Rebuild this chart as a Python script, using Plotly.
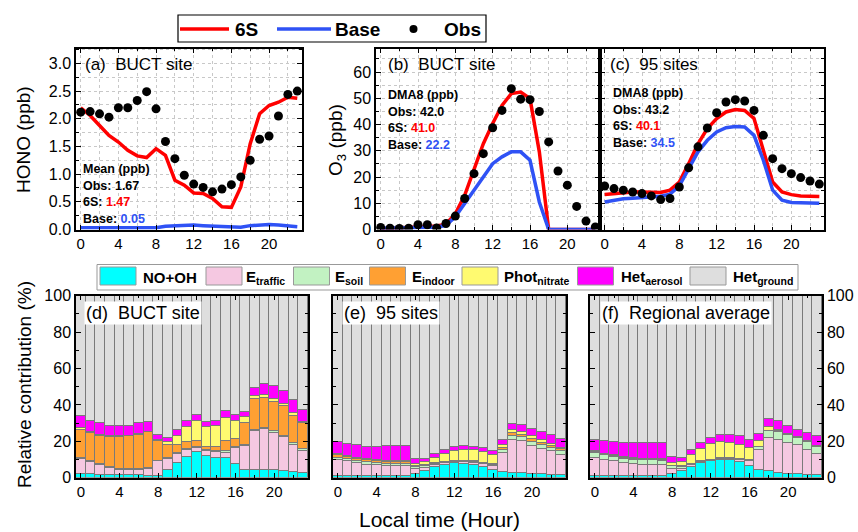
import plotly.graph_objects as go

W, H = 858, 532
def fx(x): return x / W
def fy(y): return 1 - y / H

hours = list(range(24))
xtick_vals = [0, 4, 8, 12, 16, 20]

# ---- (a) HONO at BUCT ----
hono_obs = [2.12, 2.13, 2.09, 2.03, 2.20, 2.20, 2.33, 2.49, 2.18, 1.59, 1.28, 0.98,
            0.82, 0.76, 0.68, 0.73, 0.81, 0.95, 1.25, 1.63, 1.69, 2.05, 2.44, 2.50]
hono_6s = [2.20, 2.06, 1.88, 1.70, 1.58, 1.43, 1.33, 1.30, 1.46, 1.34, 0.89, 0.80,
           0.66, 0.65, 0.56, 0.41, 0.40, 0.77, 1.55, 2.09, 2.24, 2.30, 2.39, 2.37]
hono_base = [0.03, 0.03, 0.03, 0.03, 0.03, 0.03, 0.03, 0.03, 0.03, 0.06, 0.07, 0.08,
             0.08, 0.07, 0.06, 0.05, 0.04, 0.04, 0.07, 0.08, 0.09, 0.08, 0.07, 0.05]

# ---- (b) O3 at BUCT ----
o3b_obs = [0.8, 0.5, 0.4, 0.5, 1.8, 1.8, 0.6, 2.3, 5.1, 11.8, 21.3, 28.9,
           38.8, 45.4, 53.7, 49.7, 49.5, 45.0, 33.4, 22.3, 16.9, 8.8, 3.2, 1.0]
o3b_6s = [0.3, 0.5, 0.6, 0.7, 1.2, 1.3, 1.3, 2.0, 6.0, 13.0, 22.6, 32.7,
          40.4, 47.3, 51.8, 52.4, 49.9, 29.6, 0.0, 0.0, 0.0, 0.0, 0.0, 0.0]
o3b_base = [0.5, 0.5, 0.6, 0.6, 0.8, 0.9, 0.9, 1.6, 4.8, 9.9, 15.0, 20.0,
            25.1, 27.7, 29.6, 29.6, 26.4, 10.5, 0.0, 0.0, 0.0, 0.0, 0.0, 0.0]

# ---- (c) O3 at 95 sites ----
o3c_obs = [16.6, 15.6, 15.0, 14.3, 13.7, 12.8, 11.4, 11.8, 16.2, 23.5, 31.5, 38.7,
           44.5, 48.6, 49.5, 49.0, 45.4, 35.9, 27.0, 23.2, 21.3, 19.8, 18.5, 17.3]
o3c_6s = [13.3, 13.7, 14.1, 14.3, 14.3, 14.3, 14.1, 15.0, 18.1, 25.1, 32.7, 38.5,
          42.3, 44.8, 45.7, 45.4, 42.3, 30.2, 18.1, 14.3, 13.3, 12.8, 12.7, 12.6]
o3c_base = [10.5, 11.2, 11.7, 11.9, 12.2, 12.4, 12.7, 13.5, 16.6, 23.2, 29.6, 34.0,
            37.2, 38.8, 39.3, 39.1, 35.9, 26.4, 15.0, 11.2, 10.3, 10.2, 10.0, 10.0]

# ---- (d) BUCT site contributions (%) ----
d_nooh = [2.4, 2.0, 1.8, 1.6, 1.5, 1.5, 1.5, 1.3, 1.3, 4.5, 8.2, 11.8,
          14.4, 12.2, 11.1, 11.1, 7.8, 4.2, 4.2, 4.5, 4.2, 3.8, 3.1, 2.7]
d_traffic = [8.1, 6.7, 5.3, 3.9, 3.0, 2.7, 2.7, 3.6, 7.8, 5.9, 5.1, 3.5,
             2.1, 2.8, 3.3, 2.9, 8.7, 13.2, 21.4, 22.2, 20.7, 18.7, 15.3, 12.4]
d_soil = [0.6, 0.9, 0.7, 0.5, 0.6, 0.5, 0.5, 0.7, 0.5, 0.7, 0.6, 0.7,
          0.5, 0.5, 0.5, 0.6, 0.6, 0.5, 0.8, 0.8, 0.7, 0.8, 0.7, 0.9]
d_indoor = [15.4, 14.9, 15.5, 16.4, 17.3, 18.2, 18.9, 19.5, 10.6, 7.3, 4.5, 4.0,
            3.5, 1.8, 2.0, 5.6, 4.4, 12.1, 16.9, 16.7, 16.2, 16.0, 15.1, 14.0]
d_phot = [1.0, 1.0, 0.5, 0.5, 0.5, 0.4, 0.6, 0.4, 0.7, 1.2, 4.9, 7.8,
          11.0, 10.5, 11.5, 12.7, 10.0, 3.3, 1.8, 1.4, 1.5, 1.2, 1.3, 0.5]
d_aerosol = [6.3, 6.0, 6.2, 5.5, 5.5, 5.4, 5.8, 5.0, 2.7, 2.4, 3.1, 3.3,
             3.0, 2.7, 2.7, 4.0, 3.2, 3.1, 4.2, 5.9, 7.2, 7.3, 7.2, 6.8]
d_ground = [66.2, 68.5, 70.0, 71.6, 71.6, 71.3, 70.0, 69.5, 76.4, 78.0, 73.6, 68.9,
            65.5, 69.5, 68.9, 63.1, 65.3, 63.6, 50.7, 48.5, 49.5, 52.2, 57.3, 62.7]

# ---- (e) 95 sites contributions (%) ----
e_nooh = [1.3, 1.1, 0.9, 0.9, 0.9, 0.9, 0.9, 0.9, 2.0, 3.7, 6.0, 7.3,
          8.2, 7.9, 7.0, 6.0, 4.2, 3.3, 2.9, 2.6, 2.4, 2.0, 1.8, 1.6]
e_traffic = [8.8, 8.1, 7.3, 6.4, 6.1, 5.7, 5.7, 5.7, 3.1, 2.0, 1.0, 0.9,
             0.6, 0.9, 1.4, 1.5, 2.6, 10.4, 18.2, 17.7, 15.2, 14.1, 12.9, 11.2]
e_soil = [1.1, 1.1, 1.1, 1.3, 1.3, 1.3, 1.3, 1.3, 0.9, 0.7, 0.5, 0.4,
          0.4, 0.4, 0.4, 0.5, 0.5, 1.5, 2.2, 2.1, 2.2, 2.1, 1.9, 1.8]
e_indoor = [1.4, 1.2, 1.2, 1.1, 1.0, 1.1, 1.1, 1.1, 0.6, 0.6, 0.5, 0.4,
            0.4, 0.4, 0.4, 0.4, 0.5, 1.1, 1.3, 1.4, 1.5, 1.3, 1.2, 1.1]
e_phot = [0.8, 0.8, 0.7, 0.7, 0.6, 0.5, 0.5, 0.5, 1.3, 1.6, 3.2, 4.4,
          5.2, 6.0, 6.0, 5.9, 4.7, 2.0, 1.6, 1.5, 1.6, 1.2, 1.1, 1.0]
e_aerosol = [6.4, 6.4, 6.9, 6.8, 7.3, 8.1, 8.1, 8.1, 2.7, 1.7, 2.0, 2.0,
             2.0, 2.0, 2.0, 2.2, 2.5, 2.8, 3.7, 4.0, 4.2, 4.6, 4.5, 4.9]
e_ground = [80.2, 81.3, 81.9, 82.8, 82.8, 82.4, 82.4, 82.4, 89.4, 89.7, 86.8, 84.6,
            83.2, 82.4, 82.8, 83.5, 85.0, 78.9, 70.1, 70.7, 72.9, 74.7, 76.6, 78.4]

# ---- (f) Regional average contributions (%) ----
f_nooh = [1.0, 1.0, 0.9, 0.9, 0.9, 0.9, 0.9, 0.9, 2.0, 3.8, 6.0, 8.2,
          9.2, 10.1, 10.1, 8.6, 6.4, 4.6, 3.7, 2.9, 2.4, 2.0, 1.8, 1.6]
f_traffic = [10.2, 9.1, 8.3, 7.3, 6.8, 6.4, 6.4, 6.4, 2.9, 1.3, 1.0, 0.4,
             0.5, 0.5, 0.5, 1.1, 3.1, 10.6, 18.5, 18.2, 16.8, 15.9, 13.8, 11.8]
f_soil = [2.8, 2.7, 2.4, 2.4, 2.4, 2.4, 2.4, 2.3, 1.5, 0.9, 0.5, 0.4,
          0.3, 0.2, 0.2, 0.3, 0.4, 1.8, 3.6, 4.2, 4.2, 4.3, 4.2, 3.6]
f_indoor = [0.5, 0.4, 0.5, 0.5, 0.5, 0.6, 0.5, 0.5, 0.4, 0.6, 0.4, 0.2,
            0.1, 0.1, 0.1, 0.2, 0.2, 0.2, 0.3, 0.3, 0.5, 0.2, 0.3, 0.2]
f_phot = [0.3, 0.2, 0.4, 0.4, 0.4, 0.4, 0.3, 0.3, 1.4, 2.0, 4.6, 6.6,
          8.8, 8.9, 8.5, 8.1, 6.4, 2.9, 1.9, 1.0, 0.5, 0.1, 0.2, 0.2]
f_aerosol = [6.3, 6.9, 7.1, 7.7, 8.2, 8.5, 8.7, 8.8, 3.3, 2.6, 3.1, 3.4,
             3.1, 4.0, 4.4, 4.8, 4.2, 4.1, 4.6, 4.5, 4.2, 4.1, 4.4, 5.7]
f_ground = [78.9, 79.7, 80.4, 80.8, 80.8, 80.8, 80.8, 80.8, 88.5, 88.8, 84.4, 80.8,
            78.0, 76.2, 76.2, 76.9, 79.3, 75.6, 67.4, 68.9, 71.4, 73.4, 75.3, 76.9]

comp_names = ["NO+OH", "E<sub>traffic</sub>", "E<sub>soil</sub>", "E<sub>indoor</sub>",
              "Phot<sub>nitrate</sub>", "Het<sub>aerosol</sub>", "Het<sub>ground</sub>"]
comp_colors = ["#00FFFF", "#F5C8E1", "#C2F2C2", "#FFA033", "#FFFA70", "#FF00FF", "#DEDEDE"]
panel_d = [d_nooh, d_traffic, d_soil, d_indoor, d_phot, d_aerosol, d_ground]
panel_e = [e_nooh, e_traffic, e_soil, e_indoor, e_phot, e_aerosol, e_ground]
panel_f = [f_nooh, f_traffic, f_soil, f_indoor, f_phot, f_aerosol, f_ground]

RED = "#FF0000"
BLUE = "#2F52F5"
FONT = "Liberation Sans, Arial, sans-serif"

fig = go.Figure()

def add_lines(xa, ya, s6, base, obs):
    fig.add_trace(go.Scatter(x=hours, y=s6, mode="lines", line=dict(color=RED, width=3.5),
                             xaxis=xa, yaxis=ya, showlegend=False))
    fig.add_trace(go.Scatter(x=hours, y=base, mode="lines", line=dict(color=BLUE, width=3.5),
                             xaxis=xa, yaxis=ya, showlegend=False))
    fig.add_trace(go.Scatter(x=hours, y=obs, mode="markers",
                             marker=dict(color="black", size=9),
                             xaxis=xa, yaxis=ya, showlegend=False))

add_lines("x", "y", hono_6s, hono_base, hono_obs)
add_lines("x2", "y2", o3b_6s, o3b_base, o3b_obs)
add_lines("x3", "y3", o3c_6s, o3c_base, o3c_obs)

for xa, ya, panel in [("x4", "y4", panel_d), ("x5", "y5", panel_e), ("x6", "y6", panel_f)]:
    for name, col, vals in zip(comp_names, comp_colors, panel):
        fig.add_trace(go.Bar(x=hours, y=vals, name=name, width=1,
                             marker=dict(color=col, line=dict(color="#7a7a7a", width=1)),
                             xaxis=xa, yaxis=ya, showlegend=False))

def xax(x0, x1, anchor, labels=True, grid=False):
    return dict(domain=[fx(x0), fx(x1)], anchor=anchor, range=[-0.5, 23.5],
                tickvals=xtick_vals, showticklabels=labels,
                ticks="inside", ticklen=5, tickwidth=1.2, tickcolor="black",
                minor=dict(dtick=2, tick0=0, ticks="inside", ticklen=3, tickcolor="black",
                           showgrid=grid, gridcolor="#c8c8c8", griddash="dot"),
                showgrid=grid, gridcolor="#c8c8c8", griddash="dot", gridwidth=1,
                showline=True, linecolor="black", linewidth=1.5, mirror="ticks",
                zeroline=False, tickfont=dict(family=FONT, size=15, color="black"))

def yax(y0, y1, anchor, rng, dtick, mdtick, labels=True, side="left", grid=False, fmt=None):
    d = dict(domain=[fy(y1), fy(y0)], anchor=anchor, range=rng, dtick=dtick, tick0=0,
             showticklabels=labels, side=side,
             ticks="inside", ticklen=5, tickwidth=1.2, tickcolor="black",
             minor=dict(dtick=mdtick, tick0=0, ticks="inside", ticklen=3, tickcolor="black",
                        showgrid=grid, gridcolor="#c8c8c8", griddash="dot"),
             showgrid=grid, gridcolor="#c8c8c8", griddash="dot", gridwidth=1,
             showline=True, linecolor="black", linewidth=1.5, mirror="ticks",
             zeroline=False, tickfont=dict(family=FONT, size=16, color="black"))
    if fmt:
        d["tickformat"] = fmt
    return d

TOP0, TOP1 = 48.5, 229.5
BOT0, BOT1 = 295.7, 477.7

fig.update_layout(
    xaxis=xax(76, 302, "y", grid=True),
    yaxis=yax(TOP0, TOP1, "x", [0, 3.27], 0.5, 0.25, grid=True, fmt=".1f"),
    xaxis2=xax(376, 600, "y2", grid=True),
    yaxis2=yax(TOP0, TOP1, "x2", [0, 69], 10, 5, grid=True),
    xaxis3=xax(600, 824, "y3", grid=True),
    yaxis3=yax(TOP0, TOP1, "x3", [0, 69], 10, 5, labels=False, grid=True),
    xaxis4=xax(76, 308, "y4"),
    yaxis4=yax(BOT0, BOT1, "x4", [0, 100], 20, 10),
    xaxis5=xax(333, 566, "y5"),
    yaxis5=yax(BOT0, BOT1, "x5", [0, 100], 20, 10, labels=False),
    xaxis6=xax(590, 822, "y6"),
    yaxis6=yax(BOT0, BOT1, "x6", [0, 100], 20, 10, side="right"),
)

shapes = []
annots = []

def text(x, y, s, size=16, bold=False, xanchor="left", color="black", angle=0, bg=None):
    a = dict(x=fx(x), y=fy(y), xref="paper", yref="paper", text=("<b>%s</b>" % s) if bold else s,
             showarrow=False, xanchor=xanchor, yanchor="middle", textangle=angle,
             font=dict(family=FONT, size=size, color=color))
    if bg:
        a["bgcolor"] = bg
        a["borderpad"] = 1
    annots.append(a)

# axis titles
text(24, 140, "HONO (ppb)", size=19, xanchor="center", angle=-90)
text(337, 140, "O<sub>3</sub> (ppb)", size=19, xanchor="center", angle=-90)
text(24, 385, "Relative contribution (%)", size=19, xanchor="center", angle=-90)
text(440, 519, "Local time (Hour)", size=21, xanchor="center")

# panel labels
text(83, 65, "(a)  BUCT site", size=17)
text(386, 65, "(b)  BUCT site", size=17)
text(608, 65, "(c)  95 sites", size=17)
text(84, 313, "(d)  BUCT site", size=18, bg="white")
text(342, 313, "(e)  95 sites", size=18, bg="white")
text(600, 313, "(f)  Regional average", size=18, bg="white")

def stats(x, y0, head, obs, s6, base):
    step = 16.7
    text(x, y0, head, size=12.5, bold=True)
    text(x, y0 + step, "Obs: %s" % obs, size=12.5, bold=True)
    text(x, y0 + 2 * step, "6S: <span style='color:%s'>%s</span>" % (RED, s6), size=12.5, bold=True)
    text(x, y0 + 3 * step, "Base: <span style='color:%s'>%s</span>" % (BLUE, base), size=12.5, bold=True)

stats(81, 169, "Mean (ppb)", "1.67", "1.47", "0.05")
stats(386, 95, "DMA8 (ppb)", "42.0", "41.0", "22.2")
stats(611, 93, "DMA8 (ppb)", "43.2", "40.1", "34.5")

# top legend
shapes.append(dict(type="rect", xref="paper", yref="paper", x0=fx(178), x1=fx(486),
                   y0=fy(42), y1=fy(15), line=dict(color="black", width=1.2), fillcolor="white"))
shapes.append(dict(type="line", xref="paper", yref="paper", x0=fx(180), x1=fx(229),
                   y0=fy(29), y1=fy(29), line=dict(color=RED, width=3.5)))
text(233, 29, "6S", size=19, bold=True)
shapes.append(dict(type="line", xref="paper", yref="paper", x0=fx(277), x1=fx(331),
                   y0=fy(29), y1=fy(29), line=dict(color=BLUE, width=3.5)))
text(333, 29, "Base", size=19, bold=True)
shapes.append(dict(type="circle", xref="paper", yref="paper", x0=fx(409.5), x1=fx(417.5),
                   y0=fy(33), y1=fy(25), line=dict(color="black", width=0), fillcolor="black"))
text(442, 29, "Obs", size=19, bold=True)

# bottom legend
shapes.append(dict(type="rect", xref="paper", yref="paper", x0=fx(97), x1=fx(798),
                   y0=fy(290), y1=fy(264.5), line=dict(color="#999999", width=1), fillcolor="white"))
sw_x = [100, 206, 293.5, 369.5, 462, 577.5, 690]
tx_x = [141, 244, 333, 410, 502, 618.5, 730.5]
for sx, tx, nm, col in zip(sw_x, tx_x, comp_names, comp_colors):
    shapes.append(dict(type="rect", xref="paper", yref="paper", x0=fx(sx), x1=fx(sx + 36),
                       y0=fy(285), y1=fy(267), line=dict(color="#999999", width=1), fillcolor=col))
    text(tx, 277, nm, size=15, bold=True)

fig.update_layout(width=W, height=H, margin=dict(l=0, r=0, t=0, b=0), autosize=False,
                  template="none", paper_bgcolor="white", plot_bgcolor="white",
                  barmode="stack", bargap=0, shapes=shapes, annotations=annots,
                  showlegend=False, font=dict(family=FONT, color="black"))

fig.write_html("out.html", config={"displayModeBar": False},
               post_script="document.body.style.margin='0';document.body.style.overflow='hidden';")
